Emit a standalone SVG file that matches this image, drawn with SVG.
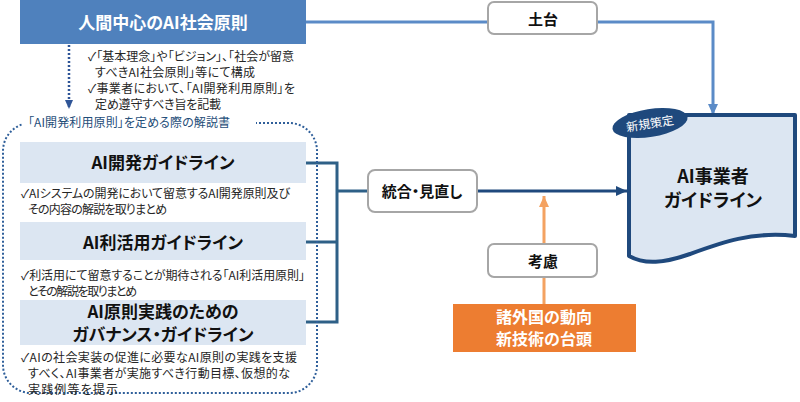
<svg xmlns="http://www.w3.org/2000/svg" width="800" height="402" viewBox="0 0 800 402">
<defs>
<style>
text{font-family:"Noto Sans CJK JP","Noto Sans",sans-serif;font-feature-settings:"palt";}
.b{font-weight:700;text-anchor:middle;fill:#111;}
.s{font-size:12px;fill:#262626;}
.lbl{fill:#fff;stroke:#a6a6a6;stroke-width:2;}
.gl{fill:#dce6f2;}
</style>
<marker id="ab" markerUnits="userSpaceOnUse" markerWidth="12" markerHeight="12" viewBox="0 0 12 12" refX="11" refY="6" orient="auto"><path d="M0,1 L11,6 L0,11 Z" fill="#5b8bc7"/></marker>
<marker id="ad" markerUnits="userSpaceOnUse" markerWidth="12" markerHeight="12" viewBox="0 0 12 12" refX="11" refY="6" orient="auto"><path d="M0,1 L11,6 L0,11 Z" fill="#1f497d"/></marker>
<marker id="ao" markerUnits="userSpaceOnUse" markerWidth="12" markerHeight="12" viewBox="0 0 12 12" refX="11" refY="6" orient="auto"><path d="M0,1 L11,6 L0,11 Z" fill="#f4a261"/></marker>
<marker id="adot" markerUnits="userSpaceOnUse" markerWidth="10" markerHeight="10" viewBox="0 0 10 10" refX="9" refY="5" orient="auto"><path d="M0,1 L9,5 L0,9 Z" fill="#2f5597"/></marker>
</defs>
<rect width="800" height="402" fill="#fff"/>

<g id="connectors" fill="none">
<path d="M306,22 H488" stroke="#5b8bc7" stroke-width="3"/>
<path d="M597,22 H713 V115" stroke="#5b8bc7" stroke-width="3" marker-end="url(#ab)"/>
<path d="M69,45 V109" stroke="#2f5597" stroke-width="2.5" stroke-dasharray="2 2" marker-end="url(#adot)"/>
<path d="M306,163 H337 V322 H306 M306,242 H337 M337,191 H368" stroke="#2e6087" stroke-width="3"/>
<path d="M477,191 H627" stroke="#1f497d" stroke-width="3" marker-end="url(#ad)"/>
<path d="M544,304 V277 M544,244 V196" stroke="#f4a261" stroke-width="3" marker-end="url(#ao)"/>
</g>

<g id="principles">
<rect x="20" y="0" width="286" height="44" fill="#4f81bd"/>
<text class="b" x="163" y="29" font-size="17" style="fill:#fff">人間中心のAI社会原則</text>
</g>

<g id="principles-notes">
<text class="s" x="88" y="60.5" textLength="206" lengthAdjust="spacing">✓「基本理念」や「ビジョン」、「社会が留意</text>
<text class="s" x="95" y="76.5" textLength="160" lengthAdjust="spacing">すべきAI社会原則」等にて構成</text>
<text class="s" x="88" y="92.5" textLength="207" lengthAdjust="spacing">✓事業者において、「AI開発利用原則」を</text>
<text class="s" x="95" y="108.5" textLength="126" lengthAdjust="spacing">定め遵守すべき旨を記載</text>
</g>

<g id="commentary">
<rect x="3" y="123" width="314" height="270" rx="28" fill="none" stroke="#2f5f9a" stroke-width="2" stroke-dasharray="2 2"/>
<rect x="22" y="112" width="234" height="20" fill="#fff"/>
<text x="28" y="126.5" font-size="12" fill="#1f4e79" textLength="202" lengthAdjust="spacing">「AI開発利用原則」を定める際の解説書</text>
</g>

<g id="dev-guideline">
<rect class="gl" x="20" y="142" width="286" height="41"/>
<text class="b" x="163" y="169" font-size="17">AI開発ガイドライン</text>
<text class="s" x="21" y="198" textLength="269" lengthAdjust="spacing">✓AIシステムの開発において留意するAI開発原則及び</text>
<text class="s" x="28" y="214" textLength="139" lengthAdjust="spacing">その内容の解説を取りまとめ</text>
</g>

<g id="use-guideline">
<rect class="gl" x="20" y="222" width="286" height="38"/>
<text class="b" x="163" y="249" font-size="17">AI利活用ガイドライン</text>
<text class="s" x="21" y="280" textLength="284" lengthAdjust="spacing">✓利活用にて留意することが期待される「AI利活用原則」</text>
<text class="s" x="28" y="296" textLength="109" lengthAdjust="spacing">とその解説を取りまとめ</text>
</g>

<g id="governance-guideline">
<rect class="gl" x="20" y="300" width="286" height="45"/>
<text class="b" x="163" y="318" font-size="17">AI原則実践のための</text>
<text class="b" x="163" y="341" font-size="17">ガバナンス・ガイドライン</text>
<text class="s" x="21" y="362" textLength="276" lengthAdjust="spacing">✓AIの社会実装の促進に必要なAI原則の実践を支援</text>
<text class="s" x="28" y="378" textLength="262" lengthAdjust="spacing">すべく、AI事業者が実施すべき行動目標、仮想的な</text>
<text class="s" x="28" y="394" textLength="90" lengthAdjust="spacing">実践例等を提示</text>
</g>

<g id="foundation">
<rect class="lbl" x="488" y="2" width="109" height="32" rx="6"/>
<text class="b" x="543" y="25" font-size="15">土台</text>
</g>

<g id="integrate">
<rect class="lbl" x="368" y="170" width="109" height="42" rx="7"/>
<text class="b" x="422" y="197" font-size="15">統合・見直し</text>
</g>

<g id="consider">
<rect class="lbl" x="488" y="244" width="109" height="33" rx="6"/>
<text class="b" x="543" y="267" font-size="15">考慮</text>
</g>

<g id="trends">
<rect x="453" y="304" width="183" height="48" fill="#ed7d31"/>
<text class="b" x="544" y="323" font-size="16" style="fill:#fff">諸外国の動向</text>
<text class="b" x="544" y="345" font-size="16" style="fill:#fff">新技術の台頭</text>
</g>

<g id="business-guideline">
<path d="M629,115 H795 V236 C752,231 720,243 690,254 C664,263 645,265 629,256 Z" fill="#dce6f2" stroke="#1f497d" stroke-width="4" stroke-linejoin="round"/>
<text class="b" x="713" y="183" font-size="18">AI事業者</text>
<text class="b" x="713" y="207" font-size="18">ガイドライン</text>
<g transform="rotate(-9 650 123)">
<ellipse cx="650" cy="123" rx="38" ry="14" fill="#1f497d"/>
<text x="650" y="128" font-size="12" fill="#fff" text-anchor="middle">新規策定</text>
</g>
</g>
</svg>
